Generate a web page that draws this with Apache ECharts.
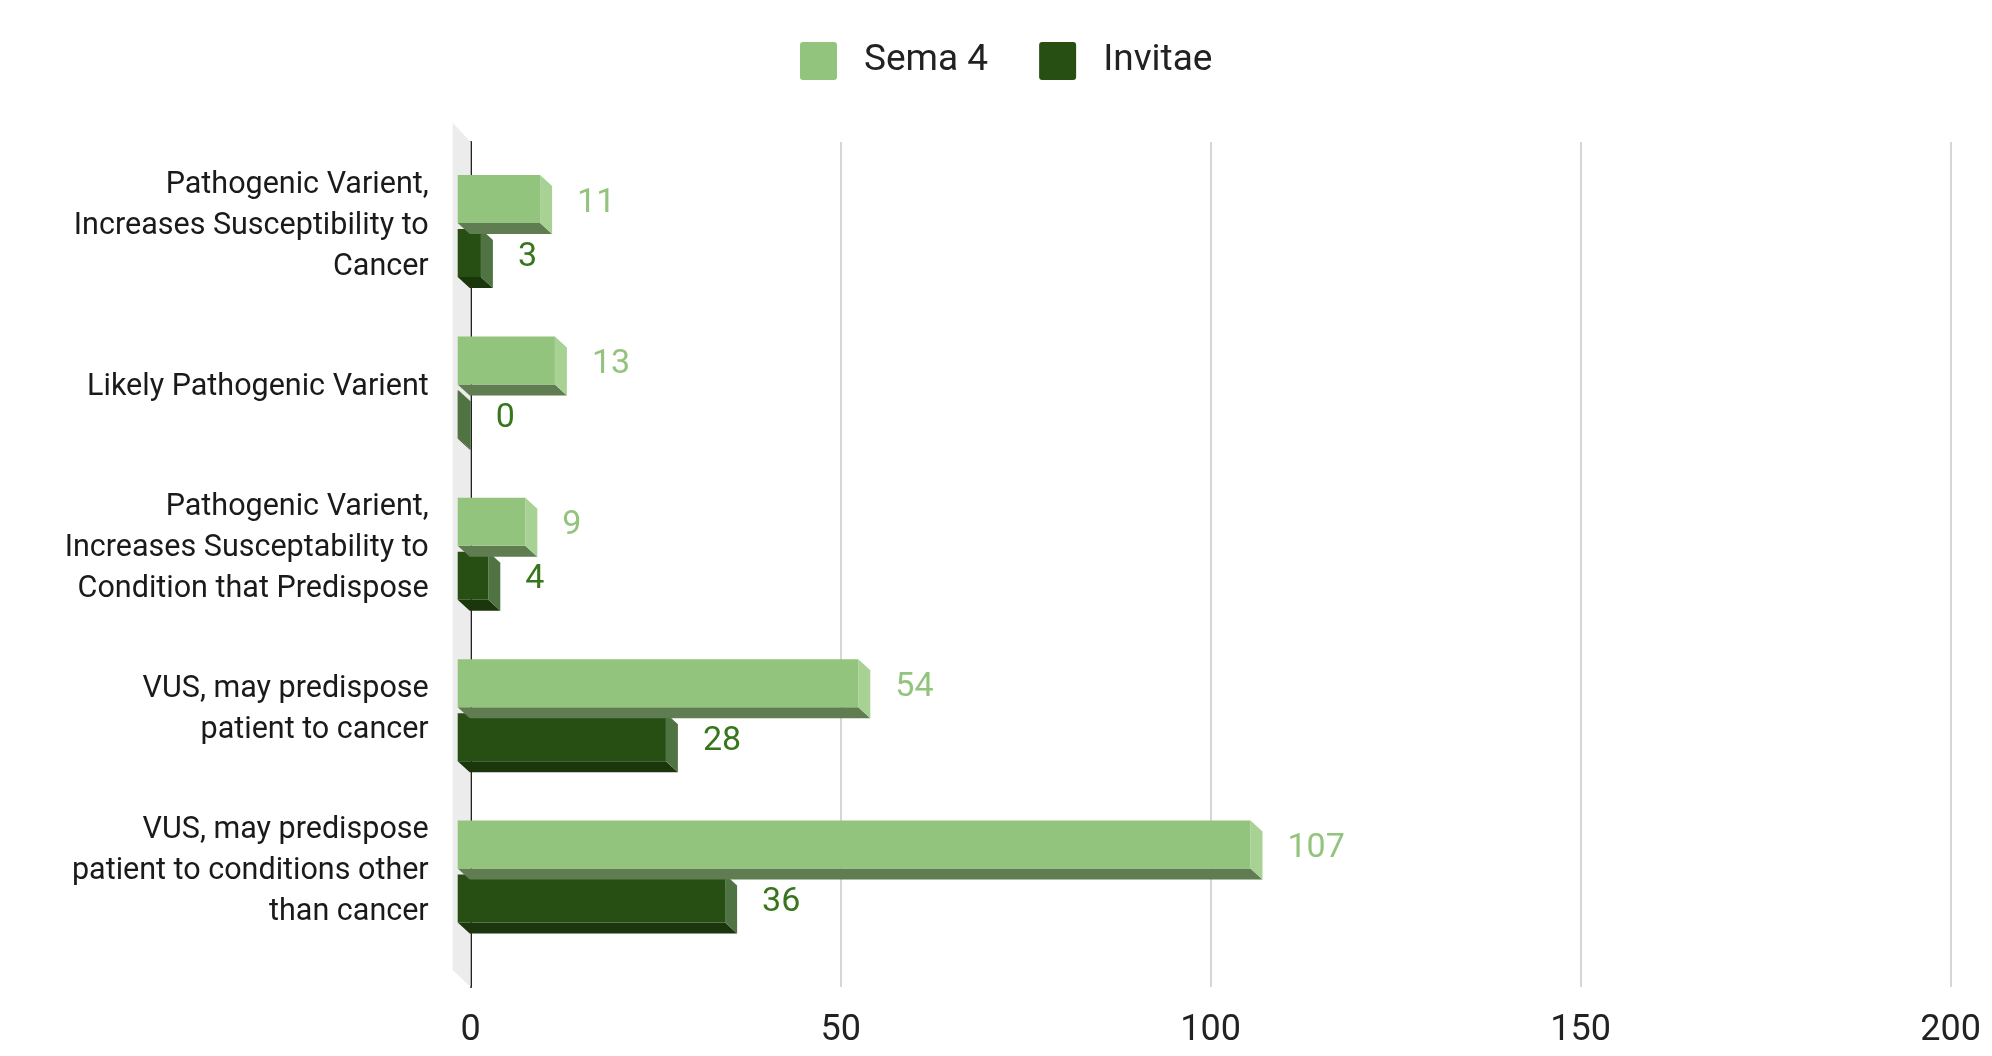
<!DOCTYPE html>
<html>
<head>
<meta charset="utf-8">
<script src="https://cdn.jsdelivr.net/npm/echarts@6/dist/echarts.min.js"></script>
<style>
html,body{margin:0;padding:0;background:#fff;}
#chart{width:1992px;height:1056px;}
</style>
</head>
<body>
<div id="chart"></div>
<script>
const categories = [
  'Pathogenic Varient,\nIncreases Susceptibility to\nCancer',
  'Likely Pathogenic Varient',
  'Pathogenic Varient,\nIncreases Susceptability to\nCondition that Predispose',
  'VUS, may predispose\npatient to cancer',
  'VUS, may predispose\npatient to conditions other\nthan cancer'
];
const sema4 = [11, 13, 9, 54, 107];
const invitae = [3, 0, 4, 28, 36];
const xTicks = [0, 50, 100, 150, 200];

const FONT = 'Roboto';
const DX = 12, DY = 11, BAR_H = 48, GAP = 3;

function makeBarRenderer(colors, offsetSign) {
  return function (params, api) {
    const v = api.value(0), c = api.value(1);
    const p0 = api.coord([0, c]);
    const pv = api.coord([v, c]);
    const yT = offsetSign < 0 ? p0[1] - GAP - BAR_H : p0[1] + GAP;
    const yB = yT + BAR_H;
    const xL = p0[0] - DX - 1;
    const xR = pv[0] - DX;
    const children = [];
    children.push({
      type: 'polygon',
      shape: { points: [[xL, yB], [xR, yB], [xR + DX, yB + DY], [xL + DX, yB + DY]] },
      style: { fill: colors.bottom }
    });
    children.push({
      type: 'polygon',
      shape: { points: [[xR, yT], [xR + DX, yT + DY], [xR + DX, yB + DY], [xR, yB]] },
      style: { fill: colors.side }
    });
    if (xR > xL) {
      children.push({
        type: 'rect',
        shape: { x: xL, y: yT, width: xR - xL, height: BAR_H },
        style: { fill: colors.front }
      });
    }
    children.push({
      type: 'text',
      style: {
        text: String(v), x: pv[0] + 25, y: (yT + yB) / 2 + 4,
        fill: colors.label, fontSize: 34, fontFamily: FONT,
        verticalAlign: 'middle', align: 'left'
      }
    });
    return { type: 'group', children: children };
  };
}

const semaColors = { front: '#93c47d', bottom: '#5f7d50', side: '#a8d194', label: '#93c47d' };
const invColors = { front: '#274e13', bottom: '#1b360d', side: '#4f7342', label: '#38761d' };

const chart = echarts.init(document.getElementById('chart'));
chart.setOption({
  animation: false,
  backgroundColor: '#ffffff',
  legend: {
    data: ['Sema 4', 'Invitae'],
    left: 795, top: 37,
    icon: 'path://M3,0 H34 Q37,0 37,3 V35 Q37,38 34,38 H3 Q0,38 0,35 V3 Q0,0 3,0 Z',
    itemWidth: 37, itemHeight: 38, itemGap: 51,
    textStyle: { fontSize: 37, fontFamily: FONT, color: '#222', padding: [0, 0, 0, 22] }
  },
  grid: [
    { left: 470.7, right: 41.3, top: 142, bottom: 69 },
    { left: 470.7, right: 41.3, top: 145.3, bottom: 103.7 }
  ],
  xAxis: [
    {
      type: 'value', gridIndex: 0, min: xTicks[0], max: xTicks[xTicks.length - 1], interval: 50,
      axisLine: { show: false }, axisTick: { show: false },
      splitLine: { show: true, lineStyle: { color: '#d6d6d6', width: 2 } },
      axisLabel: { fontSize: 36, fontFamily: FONT, color: '#222', margin: 26 }
    },
    {
      type: 'value', gridIndex: 1, min: xTicks[0], max: xTicks[xTicks.length - 1], show: false
    }
  ],
  yAxis: [
    {
      type: 'value', gridIndex: 0, min: 0, max: 1,
      axisLine: { show: true, lineStyle: { color: '#222', width: 2 } },
      axisTick: { show: false }, axisLabel: { show: false }, splitLine: { show: false }
    },
    {
      type: 'category', gridIndex: 1, data: categories, inverse: true,
      axisLine: { show: false }, axisTick: { show: false }, splitLine: { show: false },
      axisLabel: { fontSize: 30.5, lineHeight: 41, fontFamily: FONT, color: '#1a1a1a', margin: 42, align: 'right' }
    }
  ],
  series: [
    {
      type: 'custom', name: 'wall', xAxisIndex: 0, yAxisIndex: 0, z: 1, silent: true,
      data: [[0, 0]],
      renderItem: function (params, api) {
        const b = api.coord([0, 0]);
        const t = api.coord([0, 1]);
        return {
          type: 'polygon',
          shape: { points: [[t[0] - 18, t[1] - 19], [t[0], t[1]], [b[0], b[1]], [b[0] - 18, b[1] - 17]] },
          style: { fill: '#ececec' }
        };
      }
    },
    {
      type: 'custom', name: 'Invitae', xAxisIndex: 1, yAxisIndex: 1, z: 3,
      itemStyle: { color: '#274e13' },
      data: invitae.map((v, i) => [v, i]),
      encode: { x: 0, y: 1 },
      renderItem: makeBarRenderer(invColors, 1)
    },
    {
      type: 'custom', name: 'Sema 4', xAxisIndex: 1, yAxisIndex: 1, z: 4,
      itemStyle: { color: '#93c47d' },
      data: sema4.map((v, i) => [v, i]),
      encode: { x: 0, y: 1 },
      renderItem: makeBarRenderer(semaColors, -1)
    }
  ]
});
</script>
</body>
</html>
